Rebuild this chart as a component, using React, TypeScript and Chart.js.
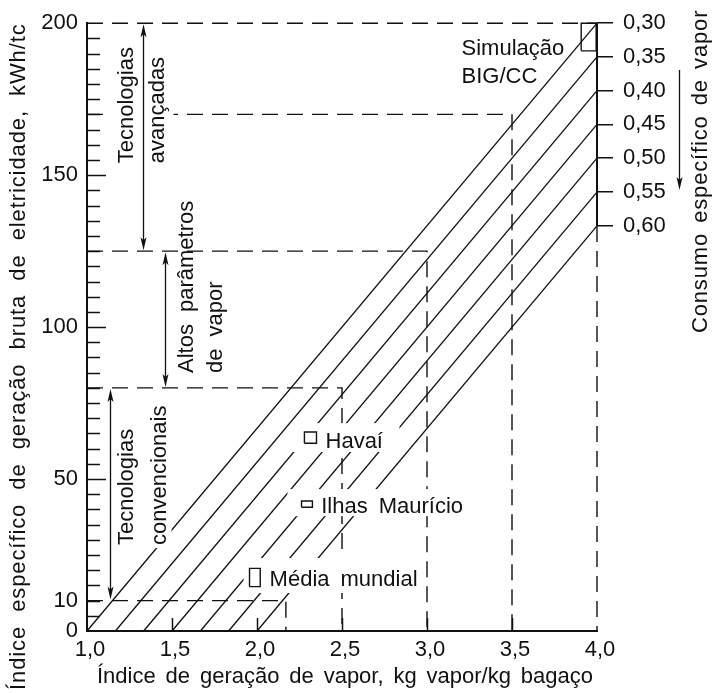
import React, { useEffect, useRef } from "react";
import { Chart, registerables } from "chart.js";

Chart.register(...registerables);

// ---------------- data ----------------
const xTickValues = [1.0, 1.5, 2.0, 2.5, 3.0, 3.5, 4.0];
const xTickLabels = ["1,0", "1,5", "2,0", "2,5", "3,0", "3,5", "4,0"];
const yTickValues = [0, 10, 50, 100, 150, 200];
const consumptionLabels = ["0,30", "0,35", "0,40", "0,45", "0,50", "0,55", "0,60"];
// parallel lines of constant specific steam consumption
const lineStartX = [1.0, 1.167, 1.333, 1.5, 1.667, 1.833, 2.0];
const lineEndY = [200, 188.9, 177.8, 166.7, 155.6, 144.4, 133.3];
// technology bands (dashed boxes)
const regionLevelsY = [10, 80, 125, 170];
const regionLimitX = [2.17, 2.5, 3.0, 3.5];
const bandNames = [
  ["Tecnologias", "convencionais"],
  ["Altos parâmetros", "de vapor"],
  ["Tecnologias", "avançadas"],
];
const bandFromY = [10, 80, 125];
const bandToY = [80, 125, 200];
// sample points drawn as small rectangles
const sampleNames = [["Simulação", "BIG/CC"], ["Havaí"], ["Ilhas Maurício"], ["Média mundial"]];
const sampleX0 = [3.907, 2.279, 2.262, 1.956];
const sampleX1 = [3.995, 2.35, 2.326, 2.019];
const sampleY0 = [190.9, 61.8, 40.7, 14.6];
const sampleY1 = [200, 65.5, 42.8, 20.6];

const X_MIN = 1.0;
const X_MAX = 4.0;
const Y_MIN = 0;
const Y_MAX = 200;

const yTitle = "Índice específico de geração bruta de eletricidade, kWh/tc";
const xTitle = "Índice de geração de vapor, kg vapor/kg bagaço";
const y2Title = "Consumo específico de vapor";

// ---------------- layout / style ----------------
const FONT_FAMILY = '"Liberation Sans", Arial, Helvetica, sans-serif';
const FONT = `22px ${FONT_FAMILY}`;
const INK = "#111";
const DASH = [16, 9];

// band arrow x positions and text placement (data units)
const bandArrowX = [1.136, 1.456, 1.328];
const bandTextBaseX = [
  [1.2735, 1.462],
  [1.6206, 1.797],
  [1.2735, 1.45],
];
const bandTextStartY = [28.3, 84.9, 153.9];
const bandMasks = [
  { x0: 1.156, x1: 1.497, y0: 27.3, y1: 76.6 },
  null,
  { x0: 1.1206, x1: 1.5088, y0: 152.3, y1: 194.4 },
];
const sampleLabelX = [3.203, 2.403, 2.378, 2.074];
const sampleLabelY = [189.5, 60.2, 38.8, 14.8];
const sampleMasks = [
  null,
  { x0: 2.203, x1: 2.838, y0: 58.9, y1: 68.4 },
  { x0: 2.179, x1: 3.25, y0: 37.8, y1: 46.7 },
  { x0: 1.921, x1: 2.956, y0: 12.5, y1: 24.0 },
];

function drawWords(ctx: CanvasRenderingContext2D, text: string, x: number, y: number, gap: number) {
  const words = text.split(" ");
  let cx = x;
  words.forEach((w) => {
    ctx.fillText(w, cx, y);
    cx += ctx.measureText(w).width + gap;
  });
}

function drawSpread(ctx: CanvasRenderingContext2D, text: string, x0: number, x1: number, y: number) {
  const words = text.split(" ");
  const widths = words.map((w) => ctx.measureText(w).width);
  const total = widths.reduce((a, b) => a + b, 0);
  const gap = words.length > 1 ? (x1 - x0 - total) / (words.length - 1) : 0;
  let cx = x0;
  words.forEach((w, i) => {
    ctx.fillText(w, cx, y);
    cx += widths[i] + gap;
  });
}

// draws text between x0 and x1 with a fixed word gap, stretching letter spacing
function drawTracked(
  ctx: CanvasRenderingContext2D,
  text: string,
  x0: number,
  x1: number,
  y: number,
  wordGap: number
) {
  const chars = Array.from(text);
  const widths = chars.map((c) => (c === " " ? 0 : ctx.measureText(c).width));
  const nSpaces = chars.filter((c) => c === " ").length;
  const nGlyph = chars.length - nSpaces;
  const base = widths.reduce((a, b) => a + b, 0);
  const ls = (x1 - x0 - base - nSpaces * wordGap) / Math.max(1, nGlyph - 1);
  let cx = x0;
  chars.forEach((c, i) => {
    if (c === " ") {
      cx += wordGap - ls;
      return;
    }
    ctx.fillText(c, cx, y);
    cx += widths[i] + ls;
  });
}

function arrowHead(ctx: CanvasRenderingContext2D, x: number, tipY: number, dir: number) {
  // dir = +1 -> pointing down, -1 -> pointing up
  const len = 13;
  const hw = 3;
  ctx.beginPath();
  ctx.moveTo(x, tipY);
  ctx.lineTo(x - hw, tipY - dir * len);
  ctx.lineTo(x, tipY - dir * (len - 3));
  ctx.lineTo(x + hw, tipY - dir * len);
  ctx.closePath();
  ctx.fill();
}

function drawMasks(chart: any) {
  const ctx: CanvasRenderingContext2D = chart.ctx;
  const xs = chart.scales.x;
  const ys = chart.scales.y;
  ctx.save();
  ctx.fillStyle = "#fff";
  [...bandMasks, ...sampleMasks].forEach((m) => {
    if (!m) return;
    const px0 = xs.getPixelForValue(m.x0);
    const px1 = xs.getPixelForValue(m.x1);
    const py0 = ys.getPixelForValue(m.y1);
    const py1 = ys.getPixelForValue(m.y0);
    ctx.fillRect(px0, py0, px1 - px0, py1 - py0);
  });
  ctx.restore();
}

function drawOverlay(chart: any) {
  const ctx: CanvasRenderingContext2D = chart.ctx;
  const xs = chart.scales.x;
  const ys = chart.scales.y;
  const area = chart.chartArea;
  ctx.save();
  ctx.strokeStyle = INK;
  ctx.fillStyle = INK;
  ctx.lineWidth = 1.5;

  // inward minor ticks on the left axis
  for (let v = 5; v < Y_MAX; v += 5) {
    const py = Math.round(ys.getPixelForValue(v)) + 0.5;
    const len = v % 50 === 0 ? 19 : 13;
    ctx.beginPath();
    ctx.moveTo(area.left, py);
    ctx.lineTo(area.left + len, py);
    ctx.stroke();
  }
  // inward ticks on the bottom axis
  xTickValues.slice(1, -1).forEach((v) => {
    const px = Math.round(xs.getPixelForValue(v)) + 0.5;
    ctx.beginPath();
    ctx.moveTo(px, area.bottom);
    ctx.lineTo(px, area.bottom - 13);
    ctx.stroke();
  });

  // band double arrows
  ctx.lineWidth = 1.3;
  bandArrowX.forEach((bx, i) => {
    const px = Math.round(xs.getPixelForValue(bx)) + 0.5;
    const top = ys.getPixelForValue(bandToY[i]) + 1;
    const bot = ys.getPixelForValue(bandFromY[i]) - 1;
    ctx.beginPath();
    ctx.moveTo(px, top + 8);
    ctx.lineTo(px, bot - 8);
    ctx.stroke();
    arrowHead(ctx, px, top, -1);
    arrowHead(ctx, px, bot, 1);
  });

  ctx.font = FONT;
  ctx.textBaseline = "alphabetic";
  ctx.textAlign = "left";

  // band texts (rotated)
  bandNames.forEach((lines, i) => {
    lines.forEach((line, j) => {
      const bx = xs.getPixelForValue(bandTextBaseX[i][j]);
      const by = ys.getPixelForValue(bandTextStartY[i]);
      ctx.save();
      ctx.translate(bx, by);
      ctx.rotate(-Math.PI / 2);
      drawWords(ctx, line, 0, 0, 12);
      ctx.restore();
    });
  });

  // sample labels
  sampleNames.forEach((lines, i) => {
    const lx = xs.getPixelForValue(sampleLabelX[i]);
    const ly = ys.getPixelForValue(sampleLabelY[i]);
    lines.forEach((line, j) => {
      drawWords(ctx, line, lx, ly + j * 28, 11);
    });
  });

  // axis titles
  drawSpread(ctx, xTitle, 97, 593, 683);

  ctx.save();
  ctx.translate(25, 690);
  ctx.rotate(-Math.PI / 2);
  drawTracked(ctx, yTitle, 0, 672, 0, 15);
  ctx.restore();

  ctx.save();
  ctx.translate(area.right + 110, 333);
  ctx.rotate(-Math.PI / 2);
  drawTracked(ctx, y2Title, 0, 325, 0, 11);
  ctx.restore();

  // arrow next to the right title
  const ax = area.right + 82.5;
  ctx.lineWidth = 1.3;
  ctx.beginPath();
  ctx.moveTo(ax, 70);
  ctx.lineTo(ax, 180);
  ctx.stroke();
  arrowHead(ctx, ax, 190, 1);

  ctx.restore();
}

const overlayPlugin = {
  id: "overlay",
  beforeDatasetsDraw(chart: any) {
    chart.$maskDone = false;
  },
  beforeDatasetDraw(chart: any, args: any) {
    const ds = chart.data.datasets[args.index];
    if (ds && ds.isSample && !chart.$maskDone) {
      chart.$maskDone = true;
      drawMasks(chart);
    }
  },
  afterDatasetsDraw(chart: any) {
    drawOverlay(chart);
  },
};

export default function App() {
  const ref = useRef<HTMLCanvasElement>(null);

  useEffect(() => {
    document.body.style.margin = "0";
    document.body.style.overflow = "hidden";
    const canvas = ref.current;
    if (!canvas) return;

    const common = {
      pointRadius: 0,
      fill: false,
      tension: 0,
      clip: false,
      borderColor: INK,
      borderJoinStyle: "miter",
      borderCapStyle: "butt",
    };
    const datasets: any[] = [];
    lineStartX.forEach((x0, i) => {
      datasets.push({
        ...common,
        data: [
          { x: x0, y: Y_MIN },
          { x: X_MAX, y: lineEndY[i] },
        ],
        borderWidth: 1.3,
        order: 2,
      });
    });
    regionLevelsY.forEach((lvl, i) => {
      datasets.push({
        ...common,
        data: [
          { x: X_MIN, y: lvl },
          { x: regionLimitX[i], y: lvl },
          { x: regionLimitX[i], y: Y_MIN },
        ],
        borderWidth: 1.4,
        borderDash: DASH,
        order: 2,
      });
    });
    // top dashed border
    datasets.push({
      ...common,
      data: [
        { x: X_MIN, y: Y_MAX },
        { x: X_MAX, y: Y_MAX },
      ],
      borderWidth: 1.4,
      borderDash: DASH,
      order: 2,
    });
    // right border: solid along consumption scale, dashed below
    const lastEnd = lineEndY[lineEndY.length - 1];
    datasets.push({
      ...common,
      data: [
        { x: X_MAX, y: Y_MAX },
        { x: X_MAX, y: lastEnd },
      ],
      borderWidth: 2,
      order: 2,
    });
    datasets.push({
      ...common,
      data: [
        { x: X_MAX, y: lastEnd },
        { x: X_MAX, y: Y_MIN },
      ],
      borderWidth: 1.4,
      borderDash: DASH,
      order: 2,
    });
    // sample rectangles
    sampleX0.forEach((x0, i) => {
      datasets.push({
        ...common,
        isSample: true,
        data: [
          { x: x0, y: sampleY0[i] },
          { x: sampleX1[i], y: sampleY0[i] },
          { x: sampleX1[i], y: sampleY1[i] },
          { x: x0, y: sampleY1[i] },
          { x: x0, y: sampleY0[i] },
        ],
        borderWidth: 1.4,
        order: 1,
      });
    });

    const tickFont = { family: FONT_FAMILY, size: 22 };

    const chart = new Chart(canvas, {
      type: "line",
      data: { datasets },
      options: {
        animation: false,
        responsive: true,
        maintainAspectRatio: false,
        events: [],
        layout: { padding: { top: 23, left: 0, right: 0, bottom: 0 } },
        plugins: { legend: { display: false }, tooltip: { enabled: false } },
        scales: {
          x: {
            type: "linear",
            min: X_MIN,
            max: X_MAX,
            afterBuildTicks: (s: any) => {
              s.ticks = xTickValues.map((v) => ({ value: v }));
            },
            afterFit: (s: any) => {
              s.height = 62;
            },
            ticks: {
              callback: (_v: any, i: number) => xTickLabels[i],
              font: tickFont,
              color: INK,
              padding: 6,
              autoSkip: false,
              maxRotation: 0,
              labelOffset: 3,
            },
            grid: { display: false, drawTicks: false },
            border: { display: true, color: INK, width: 2 },
          },
          y: {
            type: "linear",
            position: "left",
            min: Y_MIN,
            max: Y_MAX,
            afterBuildTicks: (s: any) => {
              s.ticks = yTickValues.map((v) => ({ value: v }));
            },
            afterFit: (s: any) => {
              s.width = 87;
            },
            ticks: {
              callback: (v: any) => String(v),
              font: tickFont,
              color: INK,
              padding: 9,
              autoSkip: false,
            },
            grid: { display: false, drawTicks: false },
            border: { display: true, color: INK, width: 2 },
          },
          y2: {
            type: "linear",
            position: "right",
            min: Y_MIN,
            max: Y_MAX,
            afterBuildTicks: (s: any) => {
              s.ticks = lineEndY.map((v) => ({ value: v }));
            },
            afterFit: (s: any) => {
              s.width = 117;
            },
            ticks: {
              callback: (_v: any, i: number) => consumptionLabels[i],
              font: tickFont,
              color: INK,
              padding: 10,
              autoSkip: false,
            },
            grid: {
              display: true,
              drawOnChartArea: false,
              drawTicks: true,
              tickLength: 16,
              color: INK,
              lineWidth: 1.5,
            },
            border: { display: false },
          },
        },
      } as any,
      plugins: [overlayPlugin as any],
    });

    return () => {
      chart.destroy();
    };
  }, []);

  return (
    <div style={{ position: "relative", width: "714px", height: "693px" }}>
      <canvas ref={ref} />
    </div>
  );
}
